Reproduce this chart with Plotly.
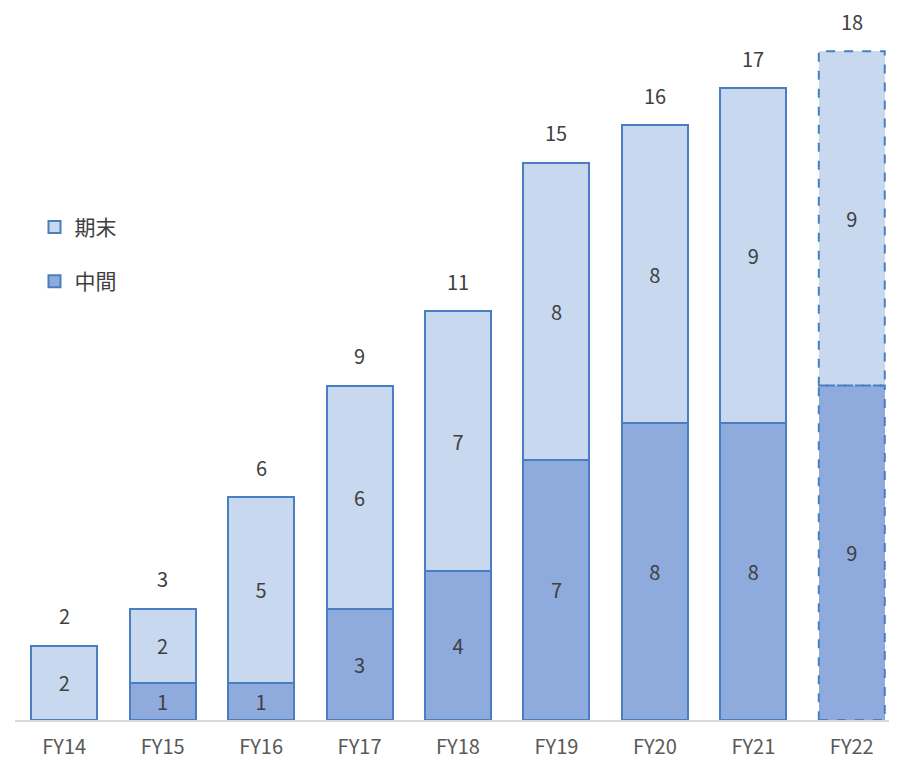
import plotly.graph_objects as go

categories = ["FY14", "FY15", "FY16", "FY17", "FY18", "FY19", "FY20", "FY21", "FY22"]
interim = [None, 1, 1, 3, 4, 7, 8, 8, 9]
final = [2, 2, 5, 6, 7, 8, 8, 9, 9]
totals = [2, 3, 6, 9, 11, 15, 16, 17, 18]
forecast_index = 8

FONT = "Noto Sans CJK JP, Noto Sans, sans-serif"
C_FINAL = "#C7D8EF"
C_INTERIM = "#8FAADC"
C_LINE = "#4A7EC2"
BAR_W = 0.67

line_w = [0 if i == forecast_index else 2 for i in range(len(categories))]

fig = go.Figure()
fig.add_trace(go.Bar(
    name="中間", x=categories, y=interim, legendgroup="b", legendrank=2,
    marker=dict(color=C_INTERIM, line=dict(color=C_LINE, width=line_w)),
    text=[("" if v is None else str(v)) for v in interim],
    textposition="inside", insidetextanchor="middle", textangle=0,
    constraintext="none",
    textfont=dict(size=20, color="#404040", family=FONT),
    width=BAR_W,
))
fig.add_trace(go.Bar(
    name="期末", x=categories, y=final, legendgroup="a", legendrank=1,
    marker=dict(color=C_FINAL, line=dict(color=C_LINE, width=line_w)),
    text=[str(v) for v in final],
    textposition="inside", insidetextanchor="middle", textangle=0,
    constraintext="none",
    textfont=dict(size=20, color="#404040", family=FONT),
    width=BAR_W,
))

# dashed outlines for forecast year
i = forecast_index
base = interim[i] or 0
for y0, y1 in [(0, base), (base, base + final[i])]:
    fig.add_shape(type="rect", xref="x", yref="y",
                  x0=i - BAR_W / 2, x1=i + BAR_W / 2, y0=y0, y1=y1,
                  line=dict(color=C_LINE, width=2, dash="dash"),
                  fillcolor="rgba(0,0,0,0)")

for c, t in zip(categories, totals):
    fig.add_annotation(x=c, y=t, text=str(t), showarrow=False, yshift=30,
                       font=dict(size=20, color="#404040", family=FONT))

fig.update_layout(
    barmode="stack",
    width=897, height=761,
    margin=dict(l=7, r=4, t=6, b=49),
    plot_bgcolor="white", paper_bgcolor="white",
    font=dict(family=FONT, color="#404040"),
    legend=dict(x=0.022, y=0.727, xanchor="left", yanchor="top",
                traceorder="grouped", tracegroupgap=24,
                font=dict(size=21, color="#404040", family=FONT),
                bgcolor="rgba(0,0,0,0)"),
    xaxis=dict(showline=True, linecolor="#D9D9D9", linewidth=1.5,
               ticks="", ticklabelstandoff=8,
               tickfont=dict(size=20, color="#595959", family=FONT),
               showgrid=False),
    yaxis=dict(range=[0, 19.0], visible=False, showgrid=False),
)

fig.write_html("out.html")
